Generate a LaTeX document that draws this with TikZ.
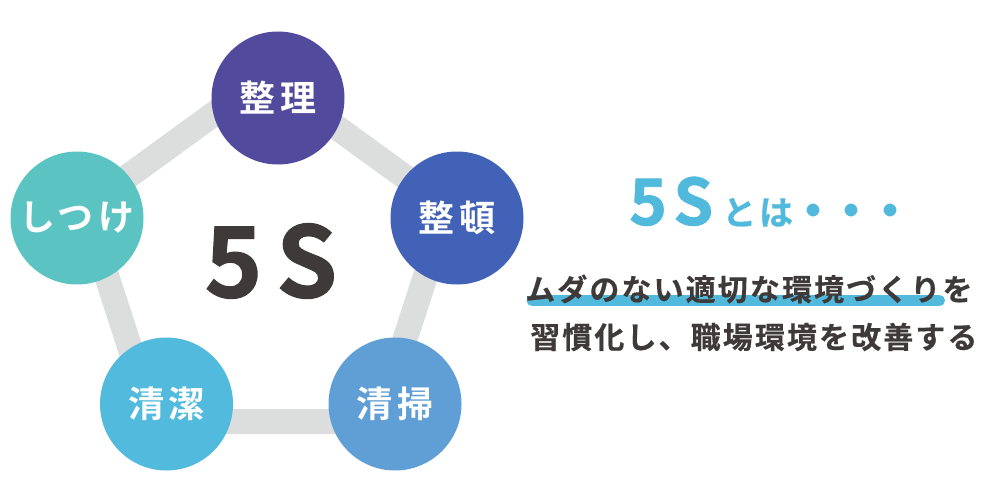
\documentclass[tikz,border=0pt]{standalone}
\usepackage{fontspec}
\setmainfont{Noto Sans CJK JP}[BoldFont={Noto Sans CJK JP Bold}]
\definecolor{seiricol}{HTML}{524A9C}
\definecolor{seitoncol}{HTML}{4262B8}
\definecolor{seisocol}{HTML}{609FD5}
\definecolor{seiketsucol}{HTML}{52BADC}
\definecolor{shitsukecol}{HTML}{5BC4C2}
\definecolor{bandgray}{HTML}{DCDDDD}
\definecolor{textdark}{HTML}{3E3A39}
\definecolor{titleblue}{HTML}{50B9DC}
\begin{document}
\begin{tikzpicture}[
  x=1pt, y=-1pt,
  every node/.style={inner sep=0pt},
  sbox/.style={circle, minimum size=133pt, text=white,
    font=\fontsize{36}{36}\selectfont\bfseries\addfontfeature{LetterSpace=12}},
  band/.style={draw=bandgray, line width=25pt, line join=round},
  uline/.style={draw=titleblue, line width=11pt, line cap=round},
  bodytext/.style={text=textdark,
    font=\fontsize{30}{30}\selectfont\bfseries\addfontfeature{LetterSpace=7,FakeBold=0.4}}
]
\useasboundingbox (0,0) rectangle (1000,500);
% pentagon behind the circles
\coordinate (v1) at (266,76);
\coordinate (v2) at (447.6,208);
\coordinate (v3) at (378.3,421.5);
\coordinate (v4) at (153.9,421.5);
\coordinate (v5) at (84.6,208);
\draw[band] (v1) -- (v2) -- (v3) -- (v4) -- (v5) -- cycle;
% the five S
\node[sbox, fill=seiricol] (seiri) at (278,98) {整理};
\node[sbox, fill=seitoncol] (seiton) at (457,218) {整頓};
\node[sbox, fill=seisocol] (seiso) at (395,404) {清掃};
\node[sbox, fill=seiketsucol] (seiketsu) at (166.5,404) {清潔};
\node[sbox, fill=shitsukecol] (shitsuke) at (77,218) {しつけ};
\node[text=textdark, font=\fontsize{98}{98}\selectfont\bfseries\addfontfeature{LetterSpace=14,FakeBold=1.2}]
  (fives) at (271,261) {5S};
% right side
\node[anchor=base west, text=titleblue, font=\bfseries] (title) at (629,225)
  {{\fontsize{64}{64}\selectfont\addfontfeature{LetterSpace=10,FakeBold=1.2}5S}\kern9pt%
   {\fontsize{34}{34}\selectfont\addfontfeature{LetterSpace=8,FakeBold=0.6}とは}\kern-5pt%
   \raisebox{-4.5pt}{\fontsize{50}{50}\selectfont\addfontfeature{LetterSpace=-23}・・・}};
\coordinate (ulA) at (532,300.5);
\coordinate (ulB) at (939.5,300.5);
\draw[uline] (ulA) -- (ulB);
\node[bodytext, anchor=west] (line1) at (525,289) {ムダのない適切な環境づくりを};
\node[bodytext, anchor=west] (line2) at (530,337) {習慣化し、職場環境を改善する};
\end{tikzpicture}
\end{document}
